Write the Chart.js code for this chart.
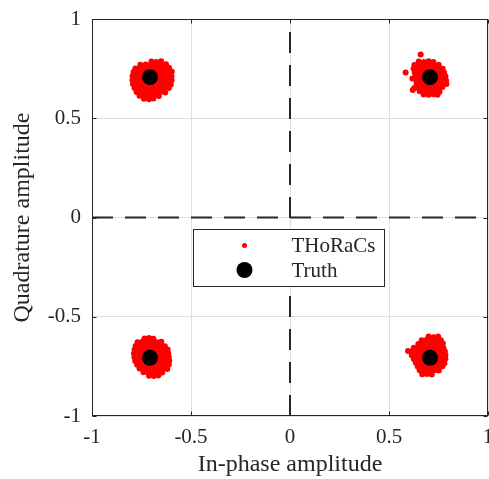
<!DOCTYPE html>
<html><head><meta charset="utf-8">
<script src="https://cdn.jsdelivr.net/npm/chart.js@4/dist/chart.umd.min.js"></script>
<style>html,body{margin:0;padding:0;background:#fff;}</style>
</head><body>
<canvas id="c" width="489" height="479"></canvas>
<script>
// ---- data ----
const xTickLabels = ['-1', '-0.5', '0', '0.5', '1'];
const yTickLabels = ['-1', '-0.5', '0', '0.5', '1'];
const seriesNames = ['THoRaCs', 'Truth'];
const axisTitles = ['In-phase amplitude', 'Quadrature amplitude'];

const truthPoints = [[0.7071, 0.7071], [-0.7071, 0.7071], [-0.7071, -0.7071], [0.7071, -0.7071]];

const thoracsQ1 = [
[0.650,0.786],[0.676,0.783],[0.700,0.787],[0.724,0.784],
[0.628,0.768],[0.653,0.770],[0.678,0.767],[0.703,0.769],[0.728,0.766],[0.751,0.770],
[0.624,0.750],[0.650,0.752],[0.675,0.749],[0.700,0.751],[0.725,0.748],[0.750,0.752],[0.771,0.749],
[0.630,0.731],[0.655,0.733],[0.680,0.730],[0.705,0.732],[0.730,0.729],[0.755,0.733],[0.778,0.730],
[0.635,0.712],[0.660,0.714],[0.685,0.711],[0.710,0.713],[0.735,0.710],[0.760,0.714],[0.785,0.711],
[0.638,0.693],[0.662,0.695],[0.688,0.692],[0.712,0.694],[0.737,0.691],[0.762,0.695],[0.788,0.692],
[0.640,0.674],[0.665,0.676],[0.690,0.673],[0.715,0.675],[0.740,0.672],[0.765,0.676],[0.790,0.673],
[0.645,0.655],[0.670,0.657],[0.695,0.654],[0.720,0.656],[0.745,0.653],[0.770,0.657],
[0.655,0.636],[0.680,0.638],[0.705,0.635],[0.730,0.637],[0.755,0.634],
[0.675,0.620],[0.700,0.618],[0.725,0.621],[0.745,0.619],
[0.660,0.821],[0.584,0.731],[0.620,0.642],[0.628,0.652],[0.618,0.700]
];

const thoracsQ2 = [
[-0.700,0.786],[-0.676,0.784],[-0.651,0.787],
[-0.756,0.769],[-0.729,0.771],[-0.703,0.768],[-0.678,0.770],[-0.651,0.767],[-0.626,0.772],
[-0.781,0.751],[-0.757,0.754],[-0.731,0.750],[-0.708,0.753],[-0.682,0.749],[-0.657,0.752],[-0.633,0.750],[-0.611,0.754],
[-0.790,0.733],[-0.765,0.735],[-0.741,0.731],[-0.714,0.734],[-0.690,0.732],[-0.664,0.735],[-0.640,0.731],[-0.616,0.733],[-0.597,0.736],
[-0.795,0.713],[-0.772,0.715],[-0.747,0.711],[-0.722,0.714],[-0.698,0.712],[-0.673,0.715],[-0.648,0.711],[-0.622,0.714],[-0.599,0.712],
[-0.796,0.693],[-0.771,0.695],[-0.745,0.691],[-0.720,0.694],[-0.695,0.692],[-0.669,0.695],[-0.645,0.692],[-0.620,0.694],[-0.598,0.691],
[-0.793,0.673],[-0.768,0.675],[-0.742,0.671],[-0.717,0.674],[-0.692,0.672],[-0.667,0.675],[-0.642,0.671],[-0.618,0.674],[-0.602,0.670],
[-0.785,0.652],[-0.760,0.654],[-0.735,0.650],[-0.710,0.653],[-0.685,0.651],[-0.660,0.654],[-0.636,0.650],[-0.612,0.653],
[-0.775,0.632],[-0.750,0.634],[-0.726,0.630],[-0.700,0.633],[-0.676,0.631],[-0.652,0.634],[-0.630,0.630],
[-0.760,0.613],[-0.735,0.615],[-0.710,0.611],[-0.686,0.614],[-0.662,0.612],
[-0.738,0.598],[-0.712,0.596],[-0.690,0.599]
];

const thoracsQ3 = [
[-0.735,-0.610],[-0.712,-0.607],[-0.690,-0.611],
[-0.770,-0.628],[-0.745,-0.626],[-0.720,-0.630],[-0.695,-0.627],[-0.672,-0.629],[-0.650,-0.626],
[-0.780,-0.647],[-0.755,-0.645],[-0.730,-0.649],[-0.705,-0.646],[-0.680,-0.648],[-0.656,-0.645],[-0.632,-0.649],
[-0.785,-0.666],[-0.760,-0.664],[-0.735,-0.668],[-0.710,-0.665],[-0.685,-0.667],[-0.660,-0.664],[-0.636,-0.668],[-0.618,-0.665],
[-0.788,-0.685],[-0.762,-0.683],[-0.737,-0.687],[-0.712,-0.684],[-0.687,-0.686],[-0.662,-0.683],[-0.638,-0.687],[-0.615,-0.684],
[-0.786,-0.704],[-0.760,-0.702],[-0.735,-0.706],[-0.710,-0.703],[-0.685,-0.705],[-0.660,-0.702],[-0.636,-0.706],[-0.612,-0.703],
[-0.782,-0.723],[-0.757,-0.721],[-0.732,-0.725],[-0.707,-0.722],[-0.682,-0.724],[-0.658,-0.721],[-0.634,-0.725],[-0.610,-0.722],
[-0.772,-0.742],[-0.748,-0.740],[-0.723,-0.744],[-0.698,-0.741],[-0.673,-0.743],[-0.650,-0.740],[-0.626,-0.744],[-0.612,-0.741],
[-0.760,-0.761],[-0.735,-0.759],[-0.710,-0.763],[-0.686,-0.760],[-0.662,-0.762],[-0.640,-0.759],[-0.620,-0.763],
[-0.740,-0.780],[-0.716,-0.778],[-0.692,-0.782],[-0.668,-0.779],[-0.645,-0.781],
[-0.712,-0.797],[-0.688,-0.799],[-0.665,-0.796]
];

const thoracsQ4 = [
[0.700,-0.600],[0.725,-0.603],[0.748,-0.599],
[0.665,-0.618],[0.690,-0.616],[0.715,-0.620],[0.740,-0.617],[0.762,-0.619],
[0.648,-0.637],[0.672,-0.635],[0.697,-0.639],[0.722,-0.636],[0.747,-0.638],[0.772,-0.635],
[0.625,-0.656],[0.650,-0.654],[0.675,-0.658],[0.700,-0.655],[0.725,-0.657],[0.750,-0.654],[0.775,-0.658],
[0.612,-0.675],[0.637,-0.673],[0.662,-0.677],[0.687,-0.674],[0.712,-0.676],[0.737,-0.673],[0.762,-0.677],[0.782,-0.674],
[0.615,-0.694],[0.640,-0.692],[0.665,-0.696],[0.690,-0.693],[0.715,-0.695],[0.740,-0.692],[0.765,-0.696],[0.785,-0.693],
[0.625,-0.713],[0.650,-0.711],[0.675,-0.715],[0.700,-0.712],[0.725,-0.714],[0.750,-0.711],[0.775,-0.715],[0.785,-0.712],
[0.635,-0.732],[0.660,-0.730],[0.685,-0.734],[0.710,-0.731],[0.735,-0.733],[0.760,-0.730],[0.780,-0.734],
[0.645,-0.751],[0.670,-0.749],[0.695,-0.753],[0.720,-0.750],[0.745,-0.752],[0.770,-0.749],
[0.655,-0.770],[0.680,-0.768],[0.705,-0.772],[0.730,-0.769],[0.752,-0.771],
[0.668,-0.790],[0.692,-0.788],[0.716,-0.791],
[0.596,-0.672]
];

const zeroLineX = [[-1, 0], [1, 0]];
const zeroLineY = [[0, -1], [0, 1]];

// ---- styles ----
const FONT = "'Liberation Serif', 'Times New Roman', serif";
const INK = '#262626';
const toXY = arr => arr.map(p => ({ x: p[0], y: p[1] }));

const framePlugin = {
  id: 'frame',
  afterDraw(chart) {
    const { ctx, chartArea: a, scales } = chart;
    const L = Math.floor(a.left) + 0.5, R = Math.ceil(a.right) - 0.5;
    const T = Math.floor(a.top) + 0.5, B = Math.ceil(a.bottom) - 0.5;
    ctx.save();
    ctx.strokeStyle = INK;
    ctx.lineWidth = 1;
    ctx.strokeRect(L, T, R - L, B - T);
    const tl = 4;
    ctx.beginPath();
    scales.x.ticks.forEach(t => {
      const px = Math.round(scales.x.getPixelForValue(t.value)) + 0.5;
      ctx.moveTo(px, B); ctx.lineTo(px, B - tl);
      ctx.moveTo(px, T); ctx.lineTo(px, T + tl);
    });
    scales.y.ticks.forEach(t => {
      const py = Math.round(scales.y.getPixelForValue(t.value)) + 0.5;
      ctx.moveTo(L, py); ctx.lineTo(L + tl, py);
      ctx.moveTo(R, py); ctx.lineTo(R - tl, py);
    });
    ctx.stroke();
    ctx.restore();
  }
};

const legendPlugin = {
  id: 'boxLegend',
  afterDraw(chart) {
    const { ctx, chartArea: a } = chart;
    const w = a.right - a.left, h = a.bottom - a.top;
    const bx = Math.round(a.left + w * 0.256) + 0.5;
    const by = Math.round(a.top + h * 0.53) + 0.5;
    const bw = 191, bh = 57;
    ctx.save();
    ctx.fillStyle = '#fff';
    ctx.fillRect(bx, by, bw, bh);
    ctx.strokeStyle = INK;
    ctx.lineWidth = 1;
    ctx.strokeRect(bx, by, bw, bh);
    const ds = chart.data.datasets;
    const entries = [ds[1], ds[0]];
    const rowsY = [by + 16, by + 40.5];
    const mx = bx + 51;
    entries.forEach((d, i) => {
      ctx.beginPath();
      ctx.fillStyle = d.backgroundColor;
      ctx.arc(mx, rowsY[i], i === 0 ? 2.5 : 8, 0, Math.PI * 2);
      ctx.fill();
      ctx.fillStyle = INK;
      ctx.font = '21px ' + FONT;
      ctx.textAlign = 'left';
      ctx.textBaseline = 'middle';
      ctx.fillText(d.label, bx + 98, rowsY[i] + 1);
    });
    ctx.restore();
  }
};

new Chart(document.getElementById('c'), {
  type: 'scatter',
  data: {
    datasets: [
      { label: seriesNames[1], data: toXY(truthPoints), backgroundColor: '#000000', borderWidth: 0, pointRadius: 8, order: 0 },
      { label: seriesNames[0], data: toXY([].concat(thoracsQ1, thoracsQ2, thoracsQ3, thoracsQ4)), backgroundColor: '#ff0000', borderWidth: 0, pointRadius: 3, order: 1 },
      { label: 'zx', data: toXY(zeroLineX), showLine: true, borderColor: INK, borderWidth: 2, borderDash: [21, 12], pointRadius: 0, order: 2 },
      { label: 'zy', data: toXY(zeroLineY), showLine: true, borderColor: INK, borderWidth: 2, borderDash: [21, 12], pointRadius: 0, order: 3 }
    ]
  },
  options: {
    responsive: false,
    animation: false,
    events: [],
    layout: { autoPadding: false, padding: { top: 19, right: 1, left: 0, bottom: 0 } },
    plugins: { legend: { display: false }, tooltip: { enabled: false } },
    scales: {
      x: {
        type: 'linear', min: -1, max: 1,
        ticks: { stepSize: 0.5, autoSkip: false, maxRotation: 0, padding: 9, color: INK,
                 font: { family: FONT, size: 21 }, callback: (v, i) => xTickLabels[i] },
        grid: { color: '#dfdfdf', drawTicks: false, lineWidth: 1 },
        border: { display: false },
        title: { display: true, text: axisTitles[0], color: INK, font: { family: FONT, size: 24 }, padding: { top: 0, bottom: 0 } },
        afterFit(s) { s.height = 63; s.paddingLeft = 0; s.paddingRight = 0; }
      },
      y: {
        type: 'linear', min: -1, max: 1,
        ticks: { stepSize: 0.5, autoSkip: false, padding: 11, color: INK,
                 font: { family: FONT, size: 21 }, callback: (v, i) => yTickLabels[i] },
        grid: { color: '#dfdfdf', drawTicks: false, lineWidth: 1 },
        border: { display: false },
        title: { display: true, text: axisTitles[1], color: INK, font: { family: FONT, size: 24 }, padding: { top: 8, bottom: 0 } },
        afterFit(s) { s.width = 92; s.paddingTop = 0; s.paddingBottom = 0; }
      }
    }
  },
  plugins: [framePlugin, legendPlugin]
});
</script>
</body></html>
